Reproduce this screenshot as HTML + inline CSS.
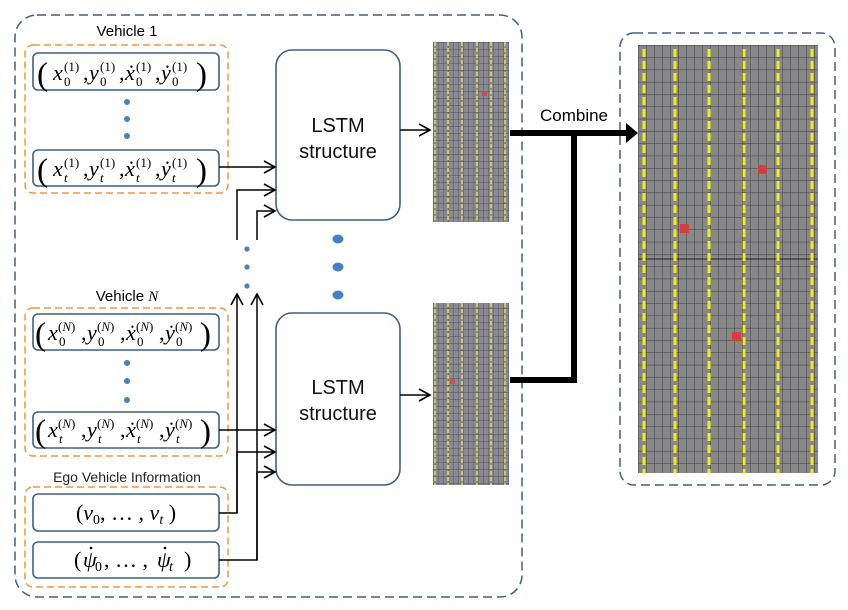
<!DOCTYPE html>
<html><head><meta charset="utf-8"><style>
html,body{margin:0;padding:0;background:#fff;}
svg{display:block;}
.s{font-family:"Liberation Sans",sans-serif;}
.m{font-family:"Liberation Serif",serif;}
</style></head><body>
<svg width="848" height="610" viewBox="0 0 848 610" xmlns="http://www.w3.org/2000/svg">
<defs>
<pattern id="gb" x="638" y="45" width="8" height="12.3" patternUnits="userSpaceOnUse">
<rect width="8" height="12.3" fill="#888"/>
<path d="M0 0V12.3M0 0H8" stroke="#3e3e48" stroke-width="1" fill="none"/>
</pattern>
<pattern id="gs" x="433" y="42" width="5" height="7" patternUnits="userSpaceOnUse">
<rect width="5" height="7" fill="#8a8a90"/>
<path d="M0 0V7M0 0H5" stroke="#3e3e4c" stroke-width="0.7" fill="none"/>
</pattern>
<marker id="ah" markerWidth="14" markerHeight="14" refX="12" refY="7" orient="auto" markerUnits="userSpaceOnUse">
<path d="M1 1L12 7L1 13" fill="none" stroke="#000" stroke-width="1.6"/>
</marker>
</defs>

<rect x="15" y="15" width="507" height="582" rx="22" fill="none" stroke="#3e5f86" stroke-width="1.5" stroke-dasharray="9 5"/>
<rect x="620" y="33" width="215" height="452" rx="14" fill="none" stroke="#3e5f86" stroke-width="1.5" stroke-dasharray="9 5"/>

<rect x="25" y="45" width="203" height="148" rx="8" fill="none" stroke="#f0963c" stroke-width="1.5" stroke-dasharray="7 4"/>
<rect x="25" y="308" width="203" height="148" rx="8" fill="none" stroke="#f0963c" stroke-width="1.5" stroke-dasharray="7 4"/>
<rect x="25" y="487" width="203" height="100" rx="8" fill="none" stroke="#f0963c" stroke-width="1.5" stroke-dasharray="7 4"/>

<text x="127" y="36" class="s" font-size="15" text-anchor="middle">Vehicle 1</text>
<text x="127" y="301" class="s" font-size="15" text-anchor="middle">Vehicle <tspan class="m" font-style="italic">N</tspan></text>
<text x="127" y="482" class="s" font-size="14" text-anchor="middle" fill="#222">Ego Vehicle Information</text>

<g fill="#fff" stroke="#3e5f86" stroke-width="1.6">
<rect x="33" y="53" width="186" height="37" rx="5"/>
<rect x="33" y="150" width="186" height="36" rx="5"/>
<rect x="33" y="314" width="186" height="36" rx="5"/>
<rect x="33" y="412" width="186" height="36" rx="5"/>
<rect x="33" y="494" width="186" height="37" rx="5"/>
<rect x="33" y="542" width="186" height="36" rx="5"/>
<rect x="276" y="50" width="124" height="170" rx="16"/>
<rect x="276" y="313" width="124" height="172" rx="16"/>
</g>

<g class="m" font-size="22">
<g transform="translate(0,80)">
<text x="37" y="5" font-size="33">(</text>
<text x="53" y="0" font-style="italic">x</text><text x="64" y="6" font-size="13">0</text><text x="64" y="-9" font-size="13">(1)</text><text x="83" y="0">,</text>
<text x="89" y="0" font-style="italic">y</text><text x="100" y="6" font-size="13">0</text><text x="100" y="-9" font-size="13">(1)</text><text x="119" y="0">,</text>
<text x="125" y="0" font-style="italic">ẋ</text><text x="136" y="6" font-size="13">0</text><text x="136" y="-9" font-size="13">(1)</text><text x="155" y="0">,</text>
<text x="161" y="0" font-style="italic">ẏ</text><text x="172" y="6" font-size="13">0</text><text x="172" y="-9" font-size="13">(1)</text>
<text x="196" y="5" font-size="33">)</text>
</g>
<g transform="translate(0,176)">
<text x="37" y="5" font-size="33">(</text>
<text x="53" y="0" font-style="italic">x</text><text x="64" y="6" font-size="13" font-style="italic">t</text><text x="64" y="-9" font-size="13">(1)</text><text x="83" y="0">,</text>
<text x="89" y="0" font-style="italic">y</text><text x="100" y="6" font-size="13" font-style="italic">t</text><text x="100" y="-9" font-size="13">(1)</text><text x="119" y="0">,</text>
<text x="125" y="0" font-style="italic">ẋ</text><text x="136" y="6" font-size="13" font-style="italic">t</text><text x="136" y="-9" font-size="13">(1)</text><text x="155" y="0">,</text>
<text x="161" y="0" font-style="italic">ẏ</text><text x="172" y="6" font-size="13" font-style="italic">t</text><text x="172" y="-9" font-size="13">(1)</text>
<text x="196" y="5" font-size="33">)</text>
</g>
<g transform="translate(0,340)">
<text x="35" y="5" font-size="33">(</text>
<text x="48" y="0" font-style="italic">x</text><text x="59" y="6" font-size="13">0</text><text x="58" y="-9" font-size="13">(<tspan font-style="italic">N</tspan>)</text><text x="81" y="0">,</text>
<text x="87" y="0" font-style="italic">y</text><text x="98" y="6" font-size="13">0</text><text x="97" y="-9" font-size="13">(<tspan font-style="italic">N</tspan>)</text><text x="120" y="0">,</text>
<text x="126" y="0" font-style="italic">ẋ</text><text x="137" y="6" font-size="13">0</text><text x="136" y="-9" font-size="13">(<tspan font-style="italic">N</tspan>)</text><text x="159" y="0">,</text>
<text x="165" y="0" font-style="italic">ẏ</text><text x="176" y="6" font-size="13">0</text><text x="175" y="-9" font-size="13">(<tspan font-style="italic">N</tspan>)</text>
<text x="200" y="5" font-size="33">)</text>
</g>
<g transform="translate(0,437)">
<text x="35" y="5" font-size="33">(</text>
<text x="48" y="0" font-style="italic">x</text><text x="59" y="6" font-size="13" font-style="italic">t</text><text x="58" y="-9" font-size="13">(<tspan font-style="italic">N</tspan>)</text><text x="81" y="0">,</text>
<text x="87" y="0" font-style="italic">y</text><text x="98" y="6" font-size="13" font-style="italic">t</text><text x="97" y="-9" font-size="13">(<tspan font-style="italic">N</tspan>)</text><text x="120" y="0">,</text>
<text x="126" y="0" font-style="italic">ẋ</text><text x="137" y="6" font-size="13" font-style="italic">t</text><text x="136" y="-9" font-size="13">(<tspan font-style="italic">N</tspan>)</text><text x="159" y="0">,</text>
<text x="165" y="0" font-style="italic">ẏ</text><text x="176" y="6" font-size="13" font-style="italic">t</text><text x="175" y="-9" font-size="13">(<tspan font-style="italic">N</tspan>)</text>
<text x="200" y="5" font-size="33">)</text>
</g>
<text x="126" y="520" text-anchor="middle">(<tspan font-style="italic">v</tspan><tspan font-size="14" dy="4">0</tspan><tspan dy="-4">, … , </tspan><tspan font-style="italic">v</tspan><tspan font-size="14" dy="4" font-style="italic">t</tspan><tspan dy="-4"> )</tspan></text>
<text x="74" y="567">(</text>
<text x="83" y="567" font-style="italic">ψ</text><text x="95" y="571" font-size="14">0</text>
<text x="104" y="567">, … , </text>
<text x="157" y="567" font-style="italic">ψ</text><text x="169" y="571" font-size="14" font-style="italic">t</text>
<text x="184" y="567">)</text>
</g>
<circle cx="91" cy="548" r="1.3" fill="#000"/>
<circle cx="165" cy="548" r="1.3" fill="#000"/>

<g fill="#4a7fc1">
<circle cx="127" cy="102" r="3"/><circle cx="127" cy="119" r="3"/><circle cx="127" cy="136" r="3"/>
<circle cx="127" cy="363" r="3"/><circle cx="127" cy="381" r="3"/><circle cx="127" cy="400" r="3"/>
<circle cx="247" cy="249" r="2.6"/><circle cx="247" cy="267" r="2.6"/><circle cx="247" cy="286" r="2.6"/>
<ellipse cx="338" cy="239" rx="5.5" ry="4.5"/><ellipse cx="338" cy="267" rx="5.5" ry="4.5"/><ellipse cx="338" cy="295" rx="5.5" ry="4.5"/>
</g>

<g class="s" font-size="20" text-anchor="middle" fill="#111">
<text x="338" y="132">LSTM</text><text x="338" y="158">structure</text>
<text x="338" y="394">LSTM</text><text x="338" y="420">structure</text>
</g>

<g stroke="#000" stroke-width="1.5" fill="none" marker-end="url(#ah)">
<path d="M219 167H275"/>
<path d="M237 240V190H275"/>
<path d="M257 240V211H275"/>
<path d="M219 430H275"/>
<path d="M237 513V452H275"/>
<path d="M257 560V472H275"/>
<path d="M219 513H237V294"/>
<path d="M219 560H257V294"/>
<path d="M400 130H430"/>
<path d="M400 395H430"/>
</g>

<g>
<rect x="433" y="42" width="76" height="180" fill="url(#gs)"/>
<rect x="433" y="303" width="76" height="182" fill="url(#gs)"/>
<g stroke="#e8e060" stroke-width="1.4" stroke-dasharray="4 2">
<path d="M435 42V222M448 42V222M462 42V222M477 42V222M491 42V222M505 42V222"/>
<path d="M435 303V485M448 303V485M462 303V485M477 303V485M491 303V485M505 303V485"/>
</g>
<rect x="482" y="91" width="5" height="5" fill="#c85050"/>
<rect x="450" y="379" width="5" height="5" fill="#c85050"/>
</g>

<rect x="638" y="45" width="180" height="428" fill="url(#gb)"/>
<path d="M638 259H818" stroke="#222" stroke-width="1"/>
<g stroke="#f2ea20" stroke-width="3" stroke-dasharray="8 4">
<path d="M644 49V473M675 49V473M709 49V473M744 49V473M778 49V473M812 49V473"/>
</g>
<rect x="758" y="165" width="9" height="9" fill="#d04040"/>
<rect x="680" y="224" width="9" height="9" fill="#d04040"/>
<rect x="732" y="332" width="9" height="9" fill="#d04040"/>

<g stroke="#000" stroke-width="6" fill="none">
<path d="M510 133H628"/>
<path d="M574 133V380H510"/>
</g>
<path d="M626 123L638 133L626 143Z" fill="#000"/>
<text x="574" y="121" class="s" font-size="17" text-anchor="middle">Combine</text>
</svg>
</body></html>
